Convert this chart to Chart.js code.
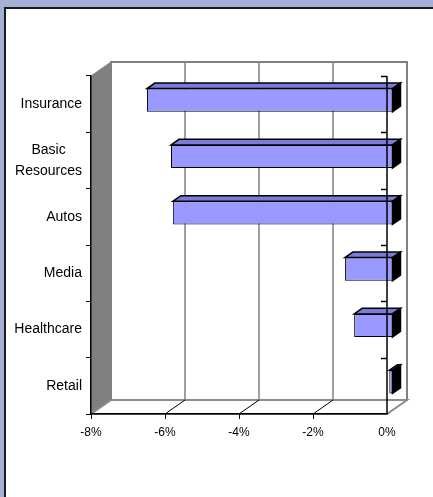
<!DOCTYPE html>
<html>
<head>
<meta charset="utf-8">
<script src="https://cdn.jsdelivr.net/npm/chart.js@4"></script>
<style>
    body { margin: 0; background: #a4b0d5; width: 433px; height: 497px; overflow: hidden; position: relative; }
    #panel { position: absolute; left: 4px; top: 7px; width: 440px; height: 500px; background: #fff; border-left: 2px solid #1a1a1a; border-top: 2px solid #1a1a1a; }
    #graph { position: absolute; left: 0; top: 0; }
</style>
</head>
<body>
<div id="panel"></div>
<canvas id="graph" width="433" height="497"></canvas>
<script>
const sectors = ['Insurance', ['Basic', 'Resources'], 'Autos', 'Media', 'Healthcare', 'Retail']
const returns = [-6.65, -6.0, -5.95, -1.3, -1.05, -0.1]
const xTicks = [-8, -6, -4, -2, 0]

// depth of the box (back wall offset) and where the bars sit inside it
const DEPTH_X = 20
const DEPTH_Y = -14
const BAR_FRONT = 0.3
const BAR_BACK = 0.7

function poly(ctx, pts, fill, stroke, lw){
    ctx.beginPath()
    ctx.moveTo(pts[0][0], pts[0][1])
    for(let p of pts.slice(1)) ctx.lineTo(p[0], p[1])
    ctx.closePath()
    if(fill){ ctx.fillStyle = fill; ctx.fill() }
    if(stroke){ ctx.strokeStyle = stroke; ctx.lineWidth = lw || 1; ctx.stroke() }
}

function line(ctx, x1, y1, x2, y2, color, lw){
    ctx.beginPath()
    ctx.moveTo(x1, y1)
    ctx.lineTo(x2, y2)
    ctx.strokeStyle = color
    ctx.lineWidth = lw || 1
    ctx.stroke()
}

function barBox(bar){
    let fx = Math.round(DEPTH_X * BAR_FRONT), fy = Math.round(DEPTH_Y * BAR_FRONT)
    let left = Math.min(bar.x, bar.base) + fx
    let right = Math.max(bar.x, bar.base) + fx
    let top = bar.y - bar.height / 2 + fy
    let bottom = bar.y + bar.height / 2 + fy
    let dx = DEPTH_X * (BAR_BACK - BAR_FRONT), dy = DEPTH_Y * (BAR_BACK - BAR_FRONT)
    return { left, right, top, bottom, dx, dy, fx, fy }
}

const box3d = {
    id: 'box3d',
    beforeDraw(chart){
        const ctx = chart.ctx
        const a = chart.chartArea
        const xs = chart.scales.x
        ctx.save()
        // back wall
        poly(ctx, [[a.left + DEPTH_X, a.top + DEPTH_Y], [a.right + DEPTH_X, a.top + DEPTH_Y],
            [a.right + DEPTH_X, a.bottom + DEPTH_Y], [a.left + DEPTH_X, a.bottom + DEPTH_Y]], '#fff', '#808080', 2)
        // left wall
        poly(ctx, [[a.left, a.top], [a.left + DEPTH_X, a.top + DEPTH_Y],
            [a.left + DEPTH_X, a.bottom + DEPTH_Y], [a.left, a.bottom]], '#808080', '#808080', 1)
        // floor
        poly(ctx, [[a.left, a.bottom], [a.left + DEPTH_X, a.bottom + DEPTH_Y],
            [a.right + DEPTH_X, a.bottom + DEPTH_Y], [a.right, a.bottom]], '#fff', '#8c8c8c', 2)
        for(let v of xTicks){
            let px = xs.getPixelForValue(v)
            if(v > xTicks[0] && v < xTicks[xTicks.length - 1]){
                line(ctx, px + DEPTH_X, a.top + DEPTH_Y, px + DEPTH_X, a.bottom + DEPTH_Y, '#808080', 1.5)
                line(ctx, px, a.bottom, px + DEPTH_X, a.bottom + DEPTH_Y, '#000', 1)
            }
        }
        ctx.restore()
    },
    beforeDatasetsDraw(chart){
        const ctx = chart.ctx
        ctx.save()
        for(let bar of chart.getDatasetMeta(0).data){
            let b = barBox(bar)
            // top face
            poly(ctx, [[b.left, b.top], [b.right, b.top], [b.right + b.dx, b.top + b.dy], [b.left + b.dx, b.top + b.dy]],
                '#7b7bdc', '#000', 1.5)
            // end face at zero
            poly(ctx, [[b.right, b.top], [b.right + b.dx, b.top + b.dy], [b.right + b.dx, b.bottom + b.dy], [b.right, b.bottom]],
                '#000', '#000', 1.5)
        }
        ctx.restore()
        // front faces are drawn by Chart.js, shifted into the box
        let b = barBox(chart.getDatasetMeta(0).data[0])
        ctx.save()
        ctx.translate(b.fx, b.fy)
    },
    afterDatasetsDraw(chart){
        const ctx = chart.ctx
        ctx.restore()
        const a = chart.chartArea
        let zx = chart.scales.x.getPixelForValue(0)
        ctx.save()
        line(ctx, zx, a.top, zx, a.bottom, '#000', 1.5)
        let step = (a.bottom - a.top) / sectors.length
        for(let i = 0; i < sectors.length; i++){
            let ty = Math.round(a.top + i * step) + 0.5
            line(ctx, zx - 6, ty, zx, ty, '#000', 1.5)
        }
        ctx.restore()
    },
    afterDraw(chart){
        const ctx = chart.ctx
        const ys = chart.scales.y
        ctx.save()
        ctx.font = '14px "Liberation Sans", Arial, sans-serif'
        ctx.fillStyle = '#000'
        ctx.textBaseline = 'middle'
        let rightEdge = 82
        sectors.forEach((label, i) => {
            let lines = Array.isArray(label) ? label : [label]
            let y = ys.getPixelForTick(i)
            let w = Math.max(...lines.map(t => ctx.measureText(t).width))
            let cx = rightEdge - w / 2
            let lh = 21
            ctx.textAlign = 'center'
            lines.forEach((t, j) => {
                ctx.fillText(t, cx, y + (j - (lines.length - 1) / 2) * lh)
            })
        })
        ctx.restore()
    }
}

function setGraph(){
    const ctx = document.getElementById('graph').getContext('2d')
    const structGraph = {
        type: 'bar',
        data: {
            labels: sectors,
            datasets: [{
                data: returns,
                backgroundColor: '#9999ff',
                borderColor: '#000',
                borderWidth: 1,
                borderSkipped: false,
                categoryPercentage: 1,
                barPercentage: 0.41,
                clip: false
            }]
        },
        options: {
            indexAxis: 'y',
            responsive: false,
            animation: false,
            layout: { padding: { left: 0, top: 76, right: 46, bottom: 0 } },
            plugins: { legend: { display: false }, tooltip: { enabled: false } },
            scales: {
                x: {
                    min: xTicks[0],
                    max: xTicks[xTicks.length - 1],
                    afterFit: s => { s.height = 83 },
                    afterBuildTicks: s => { s.ticks = xTicks.map(v => ({ value: v })) },
                    ticks: {
                        color: '#000',
                        padding: 6,
                        font: { family: '"Liberation Sans", Arial, sans-serif', size: 12 },
                        callback: v => v + '%'
                    },
                    grid: {
                        drawOnChartArea: false,
                        tickLength: 5,
                        color: c => c.tick && c.tick.value === 0 ? 'rgba(0,0,0,0)' : '#000'
                    },
                    border: { color: '#000', width: 1.5 }
                },
                y: {
                    afterFit: s => { s.width = 91 },
                    ticks: { display: false },
                    grid: { drawOnChartArea: false, tickLength: 5, color: '#000', offset: true },
                    border: { color: '#000', width: 1.5 }
                }
            }
        },
        plugins: [box3d]
    }
    const myChart = new Chart(ctx, structGraph)
}

setGraph()
</script>
</body>
</html>
